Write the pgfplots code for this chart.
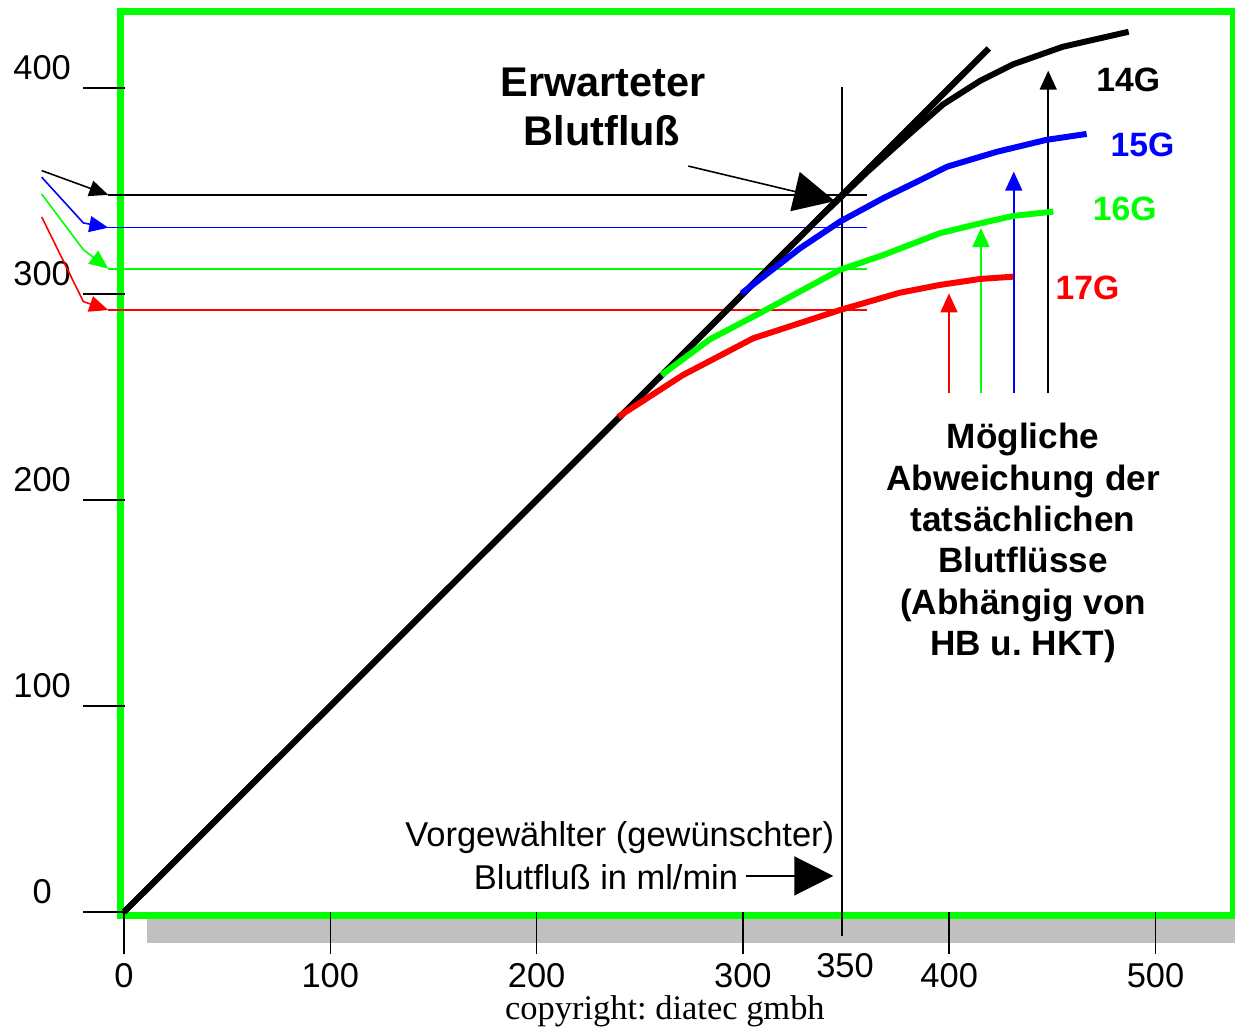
\documentclass[border=0pt]{standalone}
\usepackage{pgfplots}
\pgfplotsset{compat=1.18}
\usepackage{fontspec}
\setmainfont{Liberation Sans}
\newfontfamily\seriffont{Liberation Serif}
\usetikzlibrary{arrows.meta}
\definecolor{grn}{RGB}{0,255,0}
\definecolor{blu}{RGB}{0,0,255}
\definecolor{rd}{RGB}{255,0,0}
\definecolor{shadowgray}{RGB}{192,192,192}
\newcommand{\fs}[1]{\fontsize{#1}{#1}\selectfont}
\frenchspacing
\begin{document}
\begin{tikzpicture}
\begin{axis}[scale only axis, width=12.35cm, height=10.28cm,
  xmin=-60.11, xmax=538.54, ymin=-56.31, ymax=442.72,
  hide axis, clip=false]
\coordinate (SW) at (rel axis cs:0,0);
\coordinate (NE) at (rel axis cs:1,1);
% shadow and frame
\fill[shadowgray] (axis cs:11.1,-1.6) rectangle (axis cs:538.54,-14.9);
\draw[grn, line width=1.85pt] (axis cs:-1.6,-1.6) rectangle (axis cs:537.8,437.1);
% y ticks
\draw[line width=0.45pt] (axis cs:-19.9,0) -- (axis cs:0.5,0);
\draw[line width=0.45pt] (axis cs:-19.9,100) -- (axis cs:0.5,100);
\draw[line width=0.45pt] (axis cs:-19.9,200) -- (axis cs:0.5,200);
\draw[line width=0.45pt] (axis cs:-19.9,300) -- (axis cs:0.5,300);
\draw[line width=0.45pt] (axis cs:-19.9,400) -- (axis cs:0.5,400);
\node[anchor=base, inner sep=0, font=\fs{9.8}] at (axis cs:-39.7,3.9) {0};
\node[anchor=base, inner sep=0, font=\fs{9.8}] at (axis cs:-39.7,103.9) {100};
\node[anchor=base, inner sep=0, font=\fs{9.8}] at (axis cs:-39.7,203.9) {200};
\node[anchor=base, inner sep=0, font=\fs{9.8}] at (axis cs:-39.7,303.9) {300};
\node[anchor=base, inner sep=0, font=\fs{9.8}] at (axis cs:-39.7,403.9) {400};
% x ticks
\draw[line width=0.45pt] (axis cs:0,0) -- (axis cs:0,-20.4);
\draw[line width=0.45pt] (axis cs:100,0) -- (axis cs:100,-20.4);
\draw[line width=0.45pt] (axis cs:200,0) -- (axis cs:200,-20.4);
\draw[line width=0.45pt] (axis cs:300,0) -- (axis cs:300,-20.4);
\draw[line width=0.45pt] (axis cs:400,0) -- (axis cs:400,-20.4);
\draw[line width=0.45pt] (axis cs:500,0) -- (axis cs:500,-20.4);
\node[anchor=base, inner sep=0, font=\fs{9.8}] at (axis cs:0,-36.5) {0};
\node[anchor=base, inner sep=0, font=\fs{9.8}] at (axis cs:100,-36.5) {100};
\node[anchor=base, inner sep=0, font=\fs{9.8}] at (axis cs:200,-36.5) {200};
\node[anchor=base, inner sep=0, font=\fs{9.8}] at (axis cs:300,-36.5) {300};
\node[anchor=base, inner sep=0, font=\fs{9.8}] at (axis cs:400,-36.5) {400};
\node[anchor=base, inner sep=0, font=\fs{9.8}] at (axis cs:500,-36.5) {500};
\node[anchor=base, inner sep=0, font=\fs{9.8}] at (axis cs:349.5,-31.6) {350};
% 350 vertical line
\draw[line width=0.45pt] (axis cs:347.9,400.6) -- (axis cs:347.9,-11.65);
% horizontal reference lines
\draw[black, line width=0.45pt] (axis cs:-7.6,348.1) -- (axis cs:360,348.1);
\draw[blu, line width=0.45pt] (axis cs:-7.6,332.2) -- (axis cs:360,332.2);
\draw[grn, line width=0.45pt] (axis cs:-7.6,312.1) -- (axis cs:360,312.1);
\draw[rd, line width=0.45pt] (axis cs:-7.6,292.2) -- (axis cs:360,292.2);
% left arrows
\draw[black, line width=0.45pt, -{Triangle[length=0.19cm,width=0.16cm]}] (axis cs:-39.9,359.9) -- (axis cs:-7.6,348.1);
\draw[blu, line width=0.45pt, -{Triangle[length=0.19cm,width=0.16cm]}] (axis cs:-39.9,356.7) -- (axis cs:-19.7,334.5) -- (axis cs:-7.6,332.2);
\draw[grn, line width=0.45pt, -{Triangle[length=0.19cm,width=0.16cm]}] (axis cs:-39.9,348.5) -- (axis cs:-19.7,321.5) -- (axis cs:-7.6,312.3);
\draw[rd, line width=0.45pt, -{Triangle[length=0.19cm,width=0.16cm]}] (axis cs:-39.9,337.4) -- (axis cs:-19.7,296.3) -- (axis cs:-7.6,292.2);
% vertical arrows
\draw[rd, line width=0.45pt, -{Triangle[length=0.19cm,width=0.17cm]}] (axis cs:399.9,251.8) -- (axis cs:399.9,300.3);
\draw[grn, line width=0.45pt, -{Triangle[length=0.19cm,width=0.17cm]}] (axis cs:415.4,251.8) -- (axis cs:415.4,332.0);
\draw[blu, line width=0.45pt, -{Triangle[length=0.19cm,width=0.17cm]}] (axis cs:431.3,251.8) -- (axis cs:431.3,359.4);
\draw[black, line width=0.45pt, -{Triangle[length=0.19cm,width=0.17cm]}] (axis cs:448.0,251.8) -- (axis cs:448.0,408.4);
% curves
\addplot[black, line width=1.8pt, line join=round, no markers] coordinates {(0,0) (419.2,419.2)};
\addplot[black, line width=1.7pt, line join=round, no markers] coordinates {
 (336,336) (360,359) (380,377) (397,392) (415,403.5) (431,411.5) (455,420) (487,427.3)};
\addplot[blu, line width=1.7pt, line join=round, no markers] coordinates {
 (299.4,300.3) (327.7,322.2) (347,335.1) (368,346.5) (386,355.3) (399,361.8) (423,369) (447,374.8) (466.6,377.7)};
\addplot[grn, line width=1.7pt, line join=round, no markers] coordinates {
 (260.6,260.7) (284,278) (308,290.6) (347,311.7) (368,318.9) (395.5,329.5) (415,334.3) (431,337.9) (450.5,340)};
\addplot[rd, line width=1.7pt, line join=round, no markers] coordinates {
 (239.6,240.4) (271,260.7) (305,278.5) (347,292.2) (376,300.6) (395.5,304.4) (415,307.3) (431,308.4)};
% gauge labels
\node[anchor=base, inner sep=0, font=\fs{9.6}\bfseries, text=black] at (axis cs:486.8,398.2) {14G};
\node[anchor=base, inner sep=0, font=\fs{9.6}\bfseries, text=blu] at (axis cs:493.7,366.7) {15G};
\node[anchor=base, inner sep=0, font=\fs{9.6}\bfseries, text=grn] at (axis cs:485.1,335.9) {16G};
\node[anchor=base, inner sep=0, font=\fs{9.6}\bfseries, text=rd] at (axis cs:467.0,297.4) {17G};
% Erwarteter Blutfluss
\node[anchor=base, inner sep=0, font=\fs{11.8}\bfseries] at (axis cs:232.2,395.8) {Erwarteter};
\node[anchor=base, inner sep=0, font=\fs{11.8}\bfseries] at (axis cs:231.7,372.3) {Blutfluß};
\draw[black, line width=0.45pt, -{Triangle[length=0.41cm,width=0.40cm]}] (axis cs:273.5,362.1) -- (axis cs:344.6,345.1);
% Moegliche Abweichung
\node[anchor=base, inner sep=0, font=\fs{10}\bfseries] at (axis cs:435.8,224.8) {Mögliche};
\node[anchor=base, inner sep=0, font=\fs{10}\bfseries] at (axis cs:435.8,204.7) {Abweichung der};
\node[anchor=base, inner sep=0, font=\fs{10}\bfseries] at (axis cs:435.8,184.7) {tatsächlichen};
\node[anchor=base, inner sep=0, font=\fs{10}\bfseries] at (axis cs:435.8,164.6) {Blutflüsse};
\node[anchor=base, inner sep=0, font=\fs{10}\bfseries] at (axis cs:435.8,144.6) {(Abhängig von};
\node[anchor=base, inner sep=0, font=\fs{10}\bfseries] at (axis cs:435.8,124.5) {HB u. HKT)};
% Vorgewaehlter
\node[anchor=base east, inner sep=0, font=\fs{9.8}] at (axis cs:344.6,31.7) {Vorgewählter (gewünschter)};
\node[anchor=base east, inner sep=0, font=\fs{9.8}] at (axis cs:298,10.7) {Blutfluß in ml/min};
\draw[black, line width=0.45pt, -{Triangle[length=0.39cm,width=0.39cm]}] (axis cs:301.5,17.5) -- (axis cs:343.8,17.5);
% copyright
\node[anchor=base, inner sep=0, font=\seriffont\fs{9.8}] at (axis cs:262.2,-52.0) {copyright: diatec gmbh};
\end{axis}
\pgfresetboundingbox
\path (SW) rectangle (NE);
\end{tikzpicture}
\end{document}
